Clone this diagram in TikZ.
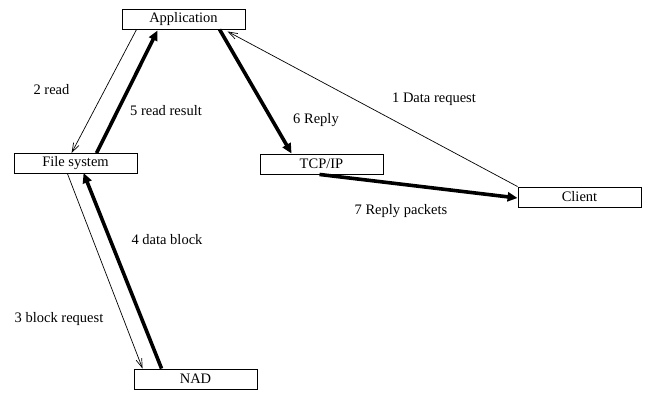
\documentclass[tikz,border=0pt]{standalone}
\usepackage{fontspec}
\setmainfont{Liberation Serif}
\usetikzlibrary{arrows.meta}
\begin{document}
\begin{tikzpicture}[x=1pt,y=-1pt,
  box/.style={draw,line width=0.9pt,minimum width=123pt,minimum height=20pt,inner sep=0pt,
    font=\fontsize{14.5}{17}\selectfont},
  lbl/.style={font=\fontsize{14.5}{17}\selectfont,inner sep=0pt},
  thinarrow/.style={line width=0.7pt,-{Straight Barb[length=9pt,width=6pt,line width=0.7pt]}},
  thickarrow/.style={line width=3.6pt,-{Triangle[length=10pt,width=9pt]}}]
\useasboundingbox (0,0) rectangle (647,392);
% boxes
\node[box] (app) at (183.5,19) {Application};
\node[box] (fs)  at (75.5,163.5) {File system};
\node[box] (tcp) at (321.5,164) {TCP/IP};
\node[box] (cli) at (579.5,197) {Client};
\node[box] (nad) at (195.5,379) {NAD};
% connectors
\draw[thinarrow]  (cli.north west) -- ([xshift=106pt,yshift=-2pt]app.south west);
\draw[thinarrow]  ([xshift=15pt]app.south west) -- ([xshift=58pt]fs.north west);
\draw[thickarrow] ([xshift=83pt]fs.north west) -- ([xshift=36pt,yshift=-1pt]app.south west);
\draw[thickarrow] ([xshift=98pt]app.south west) -- ([xshift=32pt]tcp.north west);
\draw[thickarrow] ([xshift=60pt]tcp.south west) -- ([yshift=-1pt]cli.west);
\draw[thinarrow]  ([xshift=54pt]fs.south west) -- ([xshift=9pt]nad.north west);
\draw[thickarrow] ([xshift=28pt]nad.north west) -- ([xshift=70pt,yshift=1pt]fs.south west);
% labels
\node[lbl] (l2) at (51.5,90) {2 read};
\node[lbl] (l5) at (166,111) {5 read result};
\node[lbl] (l6) at (316,120) {6 Reply};
\node[lbl] (l1) at (434,99) {1 Data request};
\node[lbl] (l7) at (401,211) {7 Reply packets};
\node[lbl] (l4) at (167,240) {4 data block};
\node[lbl] (l3) at (59,319) {3 block request};
\end{tikzpicture}
\end{document}
